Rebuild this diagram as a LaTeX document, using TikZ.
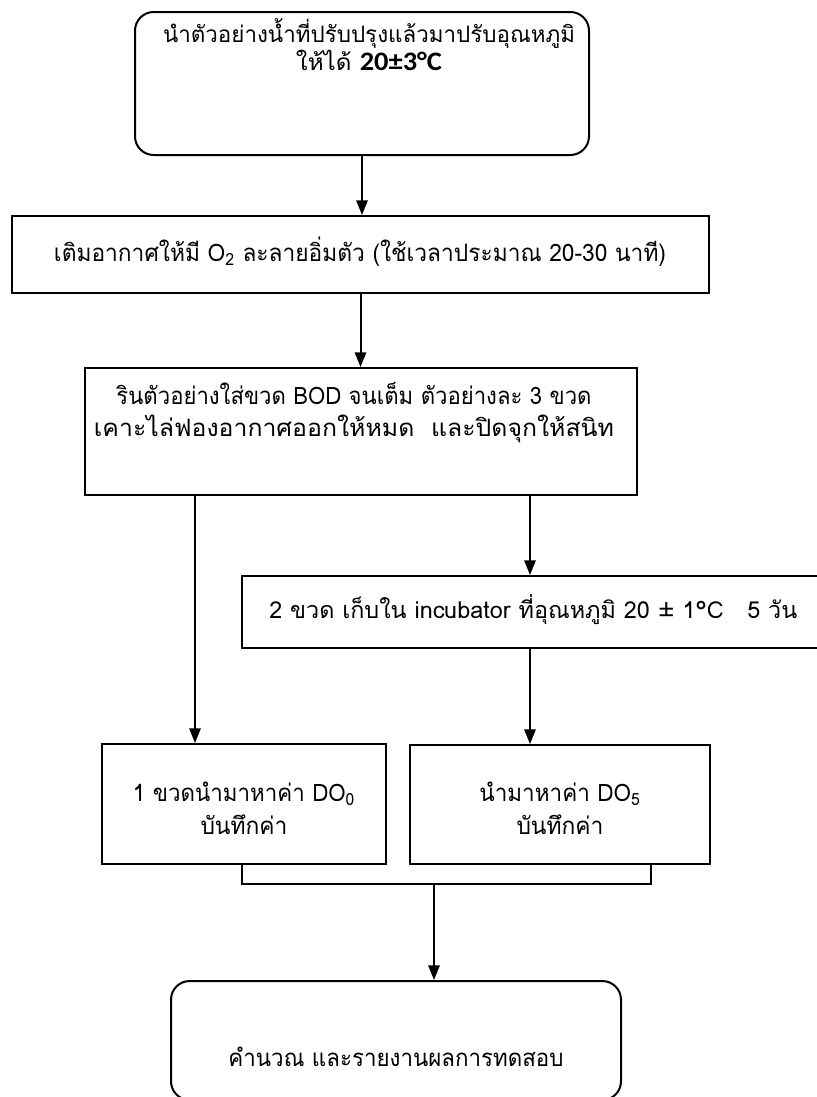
\documentclass[tikz,border=0pt]{standalone}
\usepackage{fontspec}
\usepackage{graphicx}
\setmainfont[Script=Thai]{Loma}
\newfontfamily\numfont{Carlito}
\usetikzlibrary{arrows.meta}
% one text line set to a given width (in px of the drawing)
\newcommand{\fitline}[2]{\resizebox{#1\dimexpr0.75pt\relax}{\height}{#2}}
\begin{document}
\begin{tikzpicture}[x=0.75pt,y=-0.75pt,
  box/.style={draw, line width=1.5pt, inner sep=0pt},
  rbox/.style={box, rounded corners=14pt},
  txt/.style={align=center, inner sep=0pt},
  wide/.style={txt, font=\fontsize{17}{21}\selectfont},
  tall/.style={txt, font=\fontsize{18}{24.5}\selectfont},
  arr/.style={line width=1.5pt, -{Triangle[length=11pt,width=8.5pt]}},
  wire/.style={line width=1.5pt}]
\useasboundingbox (0,0) rectangle (817,1097);

% process boxes
\node[rbox, minimum width=340.5pt, minimum height=107.25pt] (b1) at (362,83.5) {};
\node[wide] (b1t) at (369,45)
  {\fitline{412}{นำตัวอย่างน้ำที่ปรับปรุงแล้วมาปรับอุณหภูมิ}\\
   \fitline{146}{ให้ได้ {\numfont\bfseries\fontsize{20}{21}\selectfont 20±3°C}}};

\node[box, minimum width=522.75pt, minimum height=57.75pt] (b2) at (360.5,254.5) {};
\node[tall] (b2t) at (360,252)
  {\fitline{612}{เติมอากาศให้มี O\textsubscript{2} ละลายอิ่มตัว (ใช้เวลาประมาณ 20-30 นาที)}};

\node[box, minimum width=414pt, minimum height=95.25pt] (b3) at (361,431.5) {};
\node[tall, font=\fontsize{18}{24}\selectfont] (b3t) at (354,413)
  {\fitline{475}{รินตัวอย่างใส่ขวด BOD จนเต็ม ตัวอย่างละ 3 ขวด}\\
   \fitline{520}{เคาะไล่ฟองอากาศออกให้หมด\ \ และปิดจุกให้สนิท}};

\node[box, minimum width=433.5pt, minimum height=54pt] (b4) at (531,612) {};
\node[txt, font=\fontsize{17.5}{21}\selectfont, anchor=west] (b4t) at (269,610)
  {\fitline{528}{2 ขวด เก็บใน incubator ที่อุณหภูมิ 20 ± 1°C\ \ \ 5 วัน}};

\node[box, minimum width=213pt, minimum height=90pt] (b5) at (244,804) {};
\node[tall] (b5t) at (244,808)
  {\fitline{222}{1 ขวดนำมาหาค่า DO\textsubscript{0}}\\ \fitline{87}{บันทึกค่า}};

\node[box, minimum width=225pt, minimum height=89.25pt] (b6) at (560,804.5) {};
\node[tall] (b6t) at (560,808)
  {\fitline{161}{นำมาหาค่า DO\textsubscript{5}}\\ \fitline{87}{บันทึกค่า}};

\node[rbox, minimum width=337.5pt, minimum height=89.25pt] (b7) at (396,1040.5) {};
\node[txt, font=\fontsize{18}{22}\selectfont] (b7t) at (396,1057)
  {\fitline{335}{คำนวณ และรายงานผลการทดสอบ}};

% connectors
\coordinate (xl) at (195,0);
\coordinate (xr) at (530,0);
\coordinate (bl) at (242,884);
\coordinate (br) at (651,884);
\coordinate (bm) at (434,884);

\draw[arr] (b1.south) -- (b2.north -| b1.south);
\draw[arr] (b2.south) -- (b3.north -| b2.south);
\draw[arr] (b3.south -| xl) -- (b5.north -| xl);
\draw[arr] (b3.south -| xr) -- (b4.north -| xr);
\draw[arr] (b4.south -| xr) -- (b6.north -| xr);
\draw[wire] (b5.south -| bl) -- (bl) -- (br) -- (b6.south -| br);
\draw[arr] (bm) -- (b7.north -| bm);
\end{tikzpicture}
\end{document}
